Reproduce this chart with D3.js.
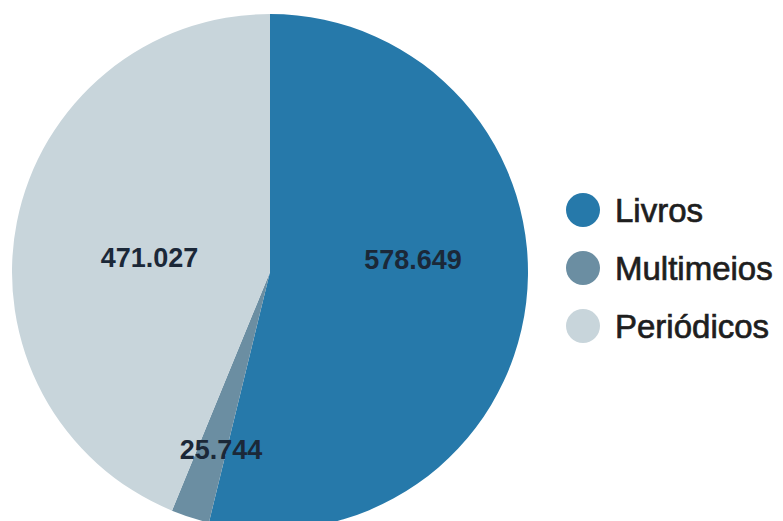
<!DOCTYPE html>
<html>
<head>
<meta charset="utf-8">
<script src="https://cdn.jsdelivr.net/npm/d3@7"></script>
<style>
  body { margin: 0; background: #fff; }
  svg { display: block; }
</style>
</head>
<body>
<svg id="chart"></svg>
<script>
// categories and values
var categories = ["Livros", "Multimeios", "Periódicos"];
var values = [578649, 25744, 471027];
var valueLabels = ["578.649", "25.744", "471.027"];
var colors = ["#2679aa", "#6b8ea2", "#c8d5db"];

var screen = {width: 783, height: 521};
var center = {x: 270, y: 272};
var radius = 258;

// where each label sits inside its slice: fraction along the slice, fraction of radius
var labelPlace = [
  {along: 0.44, out: 0.556},
  {along: 0.2, out: 0.715},
  {along: 0.47, out: 0.47}
];

var svg = d3.select("#chart")
  .attr("width", screen.width)
  .attr("height", screen.height);

var data = categories.map(function(c, i) {
  return {name: c, value: values[i], label: valueLabels[i], color: colors[i], idx: i};
});

var pie = d3.pie()
  .sort(null)
  .value(function(d) { return d.value; });

var arc = d3.arc()
  .innerRadius(0)
  .outerRadius(radius);

var g = svg.append("g")
  .attr("transform", "translate(" + center.x + "," + center.y + ")");

var slices = pie(data);

g.selectAll("path")
  .data(slices)
  .enter()
  .append("path")
  .attr("d", arc)
  .attr("fill", function(d) { return d.data.color; });

g.selectAll("text")
  .data(slices)
  .enter()
  .append("text")
  .attr("x", function(d) {
    var p = labelPlace[d.data.idx];
    var a = d.startAngle + p.along * (d.endAngle - d.startAngle);
    return Math.sin(a) * radius * p.out;
  })
  .attr("y", function(d) {
    var p = labelPlace[d.data.idx];
    var a = d.startAngle + p.along * (d.endAngle - d.startAngle);
    return -Math.cos(a) * radius * p.out;
  })
  .attr("text-anchor", "middle")
  .attr("dominant-baseline", "central")
  .attr("font-family", "Liberation Sans, Arial, sans-serif")
  .attr("font-weight", "bold")
  .attr("font-size", 27)
  .attr("fill", "#1b2838")
  .text(function(d) { return d.data.label; });

// legend
var legendY = d3.scalePoint()
  .domain(categories)
  .range([210, 326]);

var legend = svg.append("g");

var rows = legend.selectAll("g")
  .data(data)
  .enter()
  .append("g")
  .attr("transform", function(d) { return "translate(583," + legendY(d.name) + ")"; });

rows.append("circle")
  .attr("r", 17)
  .attr("fill", function(d) { return d.color; });

// medium-weight look: regular face with a thin stroke
rows.append("text")
  .attr("x", 32)
  .attr("dominant-baseline", "central")
  .attr("font-family", "Liberation Sans, Arial, sans-serif")
  .attr("font-size", 33)
  .attr("fill", "#1e1e1e")
  .attr("stroke", "#1e1e1e")
  .attr("stroke-width", 0.7)
  .text(function(d) { return d.name; });
</script>
</body>
</html>
